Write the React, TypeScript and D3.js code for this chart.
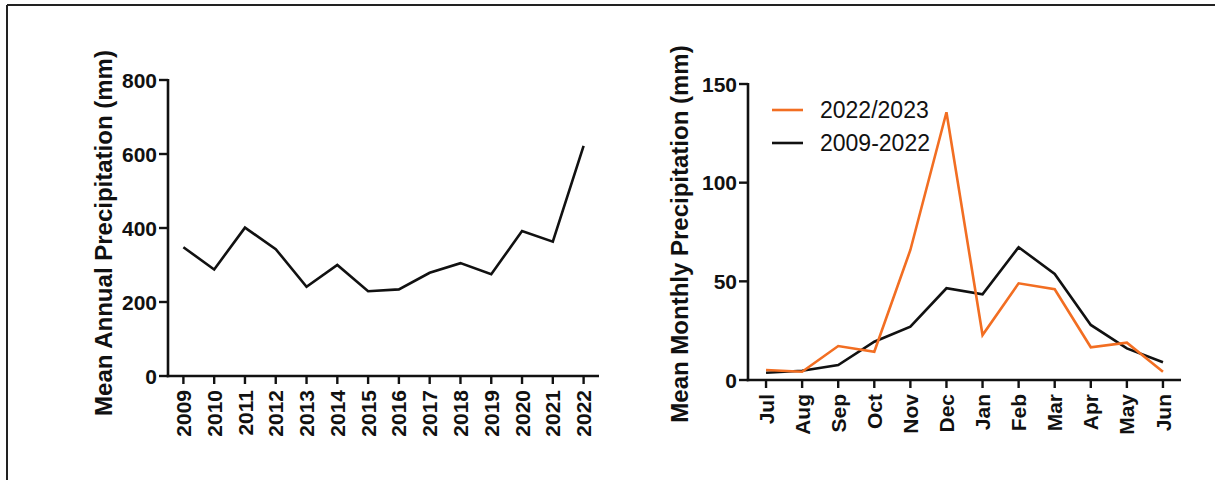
import React from "react";
import * as d3 from "d3";

const years = ["2009","2010","2011","2012","2013","2014","2015","2016","2017","2018","2019","2020","2021","2022"];
const annual = [348, 288, 401, 343, 241, 300, 229, 234, 279, 305, 275, 392, 363, 622];
const annualTicks = [0, 200, 400, 600, 800];

const months = ["Jul","Aug","Sep","Oct","Nov","Dec","Jan","Feb","Mar","Apr","May","Jun"];
const season2223 = [5.1, 4.2, 17.2, 14.3, 65.9, 135.7, 22.8, 49, 46, 16.6, 18.9, 4.2];
const mean0922 = [3.7, 4.7, 7.6, 19.4, 27, 46.5, 43.4, 67.3, 53.7, 27.9, 16, 9];
const monthlyTicks = [0, 50, 100, 150];

const ORANGE = "#F26E22";
const FONT = "'Liberation Sans', Arial, sans-serif";

function Panel(props: {
  cats: string[];
  series: { values: number[]; color: string }[];
  ticks: number[];
  yMax: number;
  x0: number; x1: number; y0: number; y1: number;
  label: string; labelX: number; labelY: number;
}) {
  const { cats, series, ticks, yMax, x0, x1, y0, y1, label, labelX, labelY } = props;
  const x = d3.scalePoint<string>().domain(cats).range([x0, x1]).padding(0.5);
  const y = d3.scaleLinear().domain([0, yMax]).range([y0, y1]);
  const line = d3.line<number>().x((_, i) => x(cats[i]) as number).y((d) => y(d));
  return (
    <g fontFamily={FONT}>
      {series.map((s, i) => (
        <path key={i} d={line(s.values) || ""} fill="none" stroke={s.color} strokeWidth={2.6} strokeLinejoin="miter" />
      ))}
      <line x1={x0} x2={x0} y1={y(yMax) - 1} y2={y0 + 1.3} stroke="#111" strokeWidth={2.6} />
      <line x1={x0 - 1.3} x2={x1} y1={y0} y2={y0} stroke="#111" strokeWidth={2.6} />
      {ticks.map((t) => (
        <g key={t}>
          <line x1={x0 - 9} x2={x0} y1={y(t)} y2={y(t)} stroke="#111" strokeWidth={2.4} />
          <text x={x0 - 11} y={y(t)} dy="0.36em" textAnchor="end" fontSize={21} fontWeight="bold" fill="#111">{t}</text>
        </g>
      ))}
      {cats.map((c) => {
        const cx = x(c) as number;
        return (
          <g key={c}>
            <line x1={cx} x2={cx} y1={y0} y2={y0 + 8} stroke="#111" strokeWidth={2.4} />
            <text transform={`translate(${cx},${y0 + 14}) rotate(-90)`} dy="0.36em" textAnchor="end" fontSize={21} fontWeight="bold" fill="#111">{c}</text>
          </g>
        );
      })}
      <text transform={`translate(${labelX},${labelY}) rotate(-90)`} textAnchor="middle" fontSize={24} fontWeight="bold" fill="#111">{label}</text>
    </g>
  );
}

export default function App() {
  return (
    <svg width={1215} height={480} style={{ position: "absolute", left: 0, top: 0, background: "#fff" }}>
      <rect x={0} y={0} width={1215} height={480} fill="#fff" />
      <line x1={7} x2={1215} y1={5} y2={5} stroke="#222" strokeWidth={2} />
      <line x1={7} x2={7} y1={5} y2={480} stroke="#222" strokeWidth={2} />
      <Panel
        cats={years}
        series={[{ values: annual, color: "#111" }]}
        ticks={annualTicks}
        yMax={800}
        x0={168} x1={599} y0={376} y1={80}
        label="Mean Annual Precipitation (mm)" labelX={112} labelY={233}
      />
      <Panel
        cats={months}
        series={[
          { values: mean0922, color: "#111" },
          { values: season2223, color: ORANGE },
        ]}
        ticks={monthlyTicks}
        yMax={150}
        x0={748} x1={1181} y0={380} y1={84}
        label="Mean Monthly Precipitation (mm)" labelX={688} labelY={234}
      />
      <g fontFamily={FONT}>
        <line x1={772} x2={803} y1={110} y2={110} stroke={ORANGE} strokeWidth={2.6} />
        <text x={820} y={118} fontSize={23} fill="#111">2022/2023</text>
        <line x1={772} x2={803} y1={143} y2={143} stroke="#111" strokeWidth={2.6} />
        <text x={820} y={151} fontSize={23} fill="#111">2009-2022</text>
      </g>
    </svg>
  );
}
